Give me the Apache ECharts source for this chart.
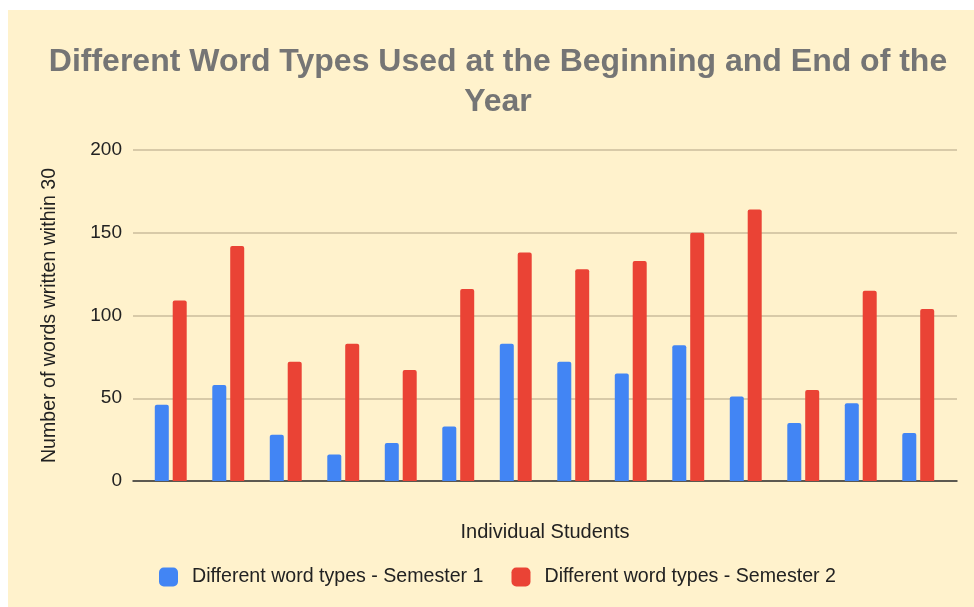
<!DOCTYPE html>
<html>
<head>
<meta charset="utf-8">
<script src="https://cdn.jsdelivr.net/npm/echarts@6/dist/echarts.min.js"></script>
<style>
  html, body { margin: 0; padding: 0; background: #ffffff; }
  #bg { position: absolute; left: 8px; top: 10px; width: 966px; height: 597px; background: #fff2cc; }
  #chart { position: absolute; left: 0; top: 0; width: 974px; height: 607px; }
</style>
</head>
<body>
<div id="bg"></div>
<div id="chart"></div>
<script>
const students = ["S1", "S2", "S3", "S4", "S5", "S6", "S7", "S8", "S9", "S10", "S11", "S12", "S13", "S14"];
const semester1 = [46, 58, 28, 16, 23, 33, 83, 72, 65, 82, 51, 35, 47, 29];
const semester2 = [109, 142, 72, 83, 67, 116, 138, 128, 133, 150, 164, 55, 115, 104];
const yTicks = [0, 50, 100, 150, 200];

const font = "Liberation Sans";
const chart = echarts.init(document.getElementById("chart"));

chart.setOption({
  backgroundColor: "transparent",
  animation: false,
  textStyle: { fontFamily: font },
  title: {
    text: "Different Word Types Used at the Beginning and End of the\nYear",
    left: 493,
    textAlign: "center",
    top: 37,
    textStyle: { fontFamily: font, fontSize: 32, fontWeight: "bold", color: "#757575", lineHeight: 40 }
  },
  legend: {
    left: 159,
    top: 567,
    padding: 0,
    itemWidth: 19,
    itemHeight: 19,
    itemGap: 28,
    icon: "roundRect",
    textStyle: { fontFamily: font, fontSize: 19.6, color: "#222", padding: [0, 0, 0, 9] }
  },
  grid: [
    { left: 133, right: 17, top: 150, bottom: 126 },
    { left: 142, right: 27, top: 150, bottom: 126 }
  ],
  xAxis: [
    {
      type: "value", gridIndex: 0, min: 0, max: 1,
      name: "Individual Students", nameLocation: "middle", nameGap: 41,
      nameTextStyle: { fontFamily: font, fontSize: 20, color: "#222" },
      axisLine: { show: true, lineStyle: { color: "#333", width: 1.5 } },
      axisTick: { show: false }, axisLabel: { show: false }, splitLine: { show: false }
    },
    {
      type: "category", gridIndex: 1, data: students,
      axisLine: { show: false }, axisTick: { show: false }, axisLabel: { show: false }
    }
  ],
  yAxis: [
    {
      type: "value", gridIndex: 0, min: 0, max: 200, interval: 50,
      name: "Number of words written within 30", nameLocation: "middle", nameGap: 73,
      nameTextStyle: { fontFamily: font, fontSize: 19.6, color: "#222" },
      axisLine: { show: false }, axisTick: { show: false },
      axisLabel: {
        margin: 11, fontFamily: font, fontSize: 19, color: "#222",
        formatter: (v) => (yTicks.includes(v) ? String(v) : "")
      },
      splitLine: { lineStyle: { color: "#cbbd9c", width: 1.5 } }
    },
    {
      type: "value", gridIndex: 1, min: 0, max: 200, interval: 50, show: false,
      splitLine: { show: false }
    }
  ],
  series: [
    {
      name: "Different word types - Semester 1",
      type: "bar", xAxisIndex: 1, yAxisIndex: 1,
      data: semester1, barWidth: 14, barGap: "28%",
      itemStyle: { color: "#4285f4", borderRadius: [2, 2, 0, 0] }
    },
    {
      name: "Different word types - Semester 2",
      type: "bar", xAxisIndex: 1, yAxisIndex: 1,
      data: semester2, barWidth: 14, barGap: "28%",
      itemStyle: { color: "#ea4335", borderRadius: [2, 2, 0, 0] }
    }
  ]
});
</script>
</body>
</html>
